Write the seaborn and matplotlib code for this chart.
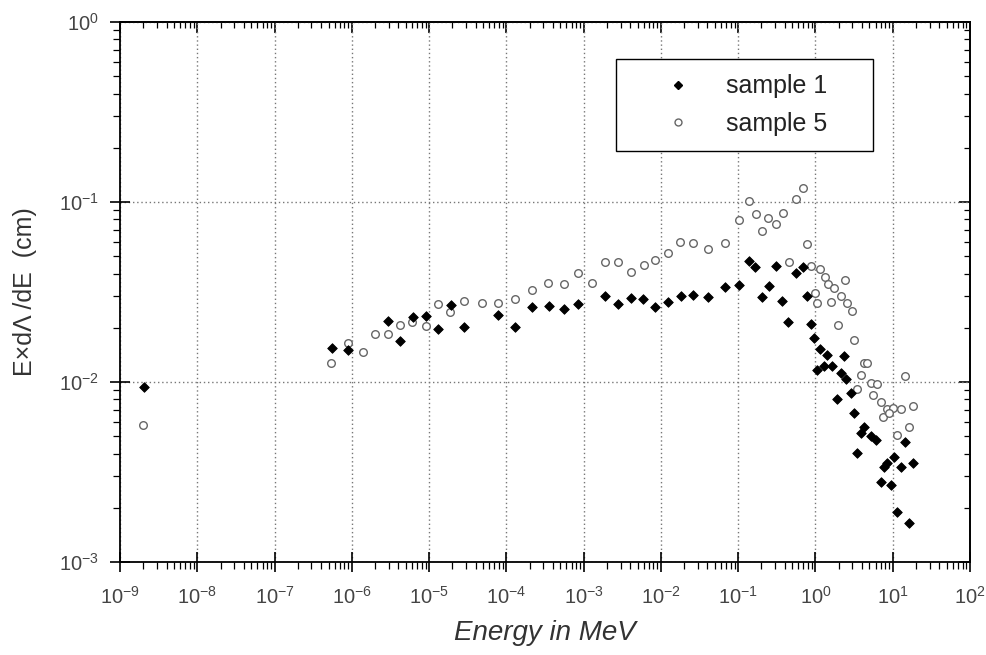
import numpy as np
import pandas as pd
import seaborn as sns
import matplotlib
matplotlib.use("Agg")
import matplotlib.pyplot as plt
from matplotlib.ticker import LogLocator, NullFormatter
from matplotlib.lines import Line2D

# ---- data ----
s1_energy = [2.07e-9, 5.52e-7, 8.97e-7, 2.90e-6, 4.20e-6, 6.18e-6, 9.02e-6, 1.30e-5, 1.94e-5,
             2.86e-5, 7.76e-5, 1.28e-4, 2.15e-4, 3.53e-4, 5.64e-4, 8.49e-4, 1.91e-3, 2.82e-3,
             4.12e-3, 5.90e-3, 8.51e-3, 1.25e-2, 1.81e-2, 2.62e-2, 4.02e-2, 6.67e-2, 0.102,
             0.137, 0.166, 0.201, 0.250, 0.305, 0.365, 0.446, 0.555, 0.689, 0.785, 0.867,
             0.957, 1.14, 1.04, 1.29, 1.43, 1.66, 2.12, 2.34, 2.51, 2.86, 1.88, 3.15, 3.49,
             3.85, 4.25, 5.19, 6.15, 7.0, 7.73, 8.53, 9.42, 10.4, 11.5, 12.7, 14.4, 16.3, 18.5]
s1_value = [9.35e-3, 1.55e-2, 1.51e-2, 2.17e-2, 1.70e-2, 2.29e-2, 2.34e-2, 1.96e-2, 2.68e-2,
            2.01e-2, 2.36e-2, 2.02e-2, 2.62e-2, 2.64e-2, 2.54e-2, 2.70e-2, 3.02e-2, 2.70e-2,
            2.93e-2, 2.88e-2, 2.61e-2, 2.79e-2, 3.02e-2, 3.04e-2, 2.97e-2, 3.38e-2, 3.44e-2,
            4.70e-2, 4.37e-2, 2.97e-2, 3.41e-2, 4.41e-2, 2.82e-2, 2.16e-2, 4.02e-2, 4.37e-2,
            3.01e-2, 2.10e-2, 1.75e-2, 1.53e-2, 1.16e-2, 1.22e-2, 1.41e-2, 1.23e-2, 1.12e-2,
            1.39e-2, 1.04e-2, 8.65e-3, 8.01e-3, 6.75e-3, 4.02e-3, 5.19e-3, 5.65e-3, 5.01e-3,
            4.76e-3, 2.79e-3, 3.38e-3, 3.53e-3, 2.68e-3, 3.85e-3, 1.90e-3, 3.36e-3, 4.66e-3,
            1.64e-3, 3.56e-3]

s5_energy = [2.0e-9, 5.41e-7, 8.97e-7, 1.38e-6, 2.01e-6, 2.90e-6, 4.24e-6, 6.05e-6, 9.02e-6,
             1.29e-5, 1.87e-5, 2.86e-5, 4.79e-5, 7.71e-5, 1.28e-4, 2.15e-4, 3.47e-4, 5.64e-4,
             8.39e-4, 1.30e-3, 1.91e-3, 2.80e-3, 4.07e-3, 5.96e-3, 8.43e-3, 1.25e-2, 1.79e-2,
             2.62e-2, 4.02e-2, 6.67e-2, 0.102, 0.138, 0.168, 0.203, 0.245, 0.305, 0.376,
             0.454, 0.555, 0.697, 0.785, 0.867, 0.977, 1.04, 1.14, 1.32, 1.47, 1.57, 1.74,
             1.96, 2.17, 2.39, 2.59, 2.94, 3.17, 4.25, 4.70, 3.94, 5.19, 6.34, 14.4, 3.49,
             5.62, 7.14, 8.53, 10.2, 12.7, 18.5, 7.59, 8.95, 16.3, 11.5]
s5_value = [5.77e-3, 1.28e-2, 1.64e-2, 1.46e-2, 1.84e-2, 1.85e-2, 2.08e-2, 2.16e-2, 2.05e-2,
            2.71e-2, 2.46e-2, 2.81e-2, 2.76e-2, 2.76e-2, 2.88e-2, 3.25e-2, 3.56e-2, 3.49e-2,
            4.03e-2, 3.56e-2, 4.62e-2, 4.64e-2, 4.10e-2, 4.45e-2, 4.75e-2, 5.23e-2, 6.02e-2,
            5.92e-2, 5.46e-2, 5.92e-2, 7.94e-2, 0.101, 8.55e-2, 6.93e-2, 8.12e-2, 7.52e-2,
            8.65e-2, 4.66e-2, 0.104, 0.119, 5.84e-2, 4.41e-2, 3.11e-2, 2.76e-2, 4.24e-2,
            3.82e-2, 3.50e-2, 2.78e-2, 3.34e-2, 2.07e-2, 3.01e-2, 3.69e-2, 2.76e-2, 2.48e-2,
            1.72e-2, 1.28e-2, 1.28e-2, 1.10e-2, 9.91e-3, 9.75e-3, 1.08e-2, 9.10e-3, 8.47e-3,
            7.71e-3, 7.05e-3, 7.14e-3, 7.08e-3, 7.36e-3, 6.37e-3, 6.70e-3, 5.60e-3, 5.08e-3]

series_labels = ["sample 1", "sample 5"]
x_label = "Energy in MeV"
y_label = "E\u00d7d\u039b /dE  (cm)"

# ---- styling ----
sns.set_style("white")
plt.rcParams["font.family"] = ["Liberation Sans", "DejaVu Sans"]
plt.rcParams["mathtext.fontset"] = "custom"
plt.rcParams["mathtext.rm"] = "Liberation Sans"
plt.rcParams["mathtext.it"] = "Liberation Sans:italic"

fig = plt.figure(figsize=(9.86, 6.55), dpi=100)
ax = fig.add_axes([120 / 986, 1 - 562 / 655, 850 / 986, 540 / 655])

df1 = pd.DataFrame({"E": s1_energy, "v": s1_value})
df5 = pd.DataFrame({"E": s5_energy, "v": s5_value})

sns.scatterplot(data=df5, x="E", y="v", marker="o", s=30, ax=ax, zorder=3,
                legend=False)
sns.scatterplot(data=df1, x="E", y="v", marker="D", s=24, ax=ax, zorder=4,
                legend=False)
coll5, coll1 = ax.collections[0], ax.collections[1]
coll5.set_facecolor("white")
coll5.set_edgecolor("#666666")
coll5.set_linewidth(1.0)
coll1.set_facecolor("black")
coll1.set_edgecolor("black")
coll1.set_linewidth(0.6)

ax.set_xscale("log")
ax.set_yscale("log")
ax.set_xlim(1e-9, 1e2)
ax.set_ylim(1e-3, 1e0)


def set_log_locators(axis):
    axis.set_major_locator(LogLocator(base=10, numticks=20))
    axis.set_minor_locator(LogLocator(base=10, subs=np.arange(2, 10), numticks=20))
    axis.set_minor_formatter(NullFormatter())


set_log_locators(ax.xaxis)
set_log_locators(ax.yaxis)

ax.grid(True, which="major", color="#777777", linestyle=(0, (1, 2)), linewidth=1.0)
ax.grid(False, which="minor")

for sp in ax.spines.values():
    sp.set_color("black")
    sp.set_linewidth(1.3)

# bottom / left: outward ticks (major cross the frame)
ax.tick_params(which="both", top=False, right=False, bottom=True, left=True, color="black")
ax.tick_params(which="major", direction="inout", length=14, width=1.2)
ax.tick_params(which="minor", direction="out", length=5, width=0.9)
ax.tick_params(axis="x", which="major", pad=10, labelsize=14.5, labelcolor="#444444")
ax.tick_params(axis="y", which="major", pad=8, labelsize=14.5, labelcolor="#444444")

# top / right: inward ticks, no labels
secx = ax.secondary_xaxis("top")
secx.set_xscale("log")
set_log_locators(secx.xaxis)
secx.xaxis.set_major_formatter(NullFormatter())
secx.tick_params(which="major", direction="in", length=8, width=1.2, color="black")
secx.tick_params(which="minor", direction="in", length=4, width=0.9, color="black")
secx.spines["top"].set_linewidth(1.3)

secy = ax.secondary_yaxis("right")
secy.set_yscale("log")
set_log_locators(secy.yaxis)
secy.yaxis.set_major_formatter(NullFormatter())
secy.tick_params(which="major", direction="in", length=8, width=1.2, color="black")
secy.tick_params(which="minor", direction="in", length=4, width=0.9, color="black")
secy.spines["right"].set_linewidth(1.3)

ax.set_xlabel(x_label, fontsize=20, fontstyle="italic", color="#333333", labelpad=9)
ax.set_ylabel(y_label, fontsize=18, color="#333333", labelpad=16)

handles = [
    Line2D([], [], linestyle="none", marker="D", markersize=4.5,
           markerfacecolor="black", markeredgecolor="black"),
    Line2D([], [], linestyle="none", marker="o", markersize=5,
           markerfacecolor="white", markeredgecolor="#666666", markeredgewidth=1.0),
]
leg = ax.legend(handles, series_labels, loc="upper left",
                bbox_to_anchor=(496 / 850, 0.751, 257 / 850, 0.18), mode="expand",
                borderaxespad=0, frameon=True, fancybox=False, fontsize=18,
                borderpad=0.6, handlelength=3.8, handletextpad=0.0, labelspacing=0.55,
                framealpha=1)
leg.get_frame().set_edgecolor("black")
leg.get_frame().set_linewidth(1.0)
leg.set_zorder(10)
for t in leg.get_texts():
    t.set_color("#222222")

fig.savefig("out.png", dpi=100, facecolor="white")
